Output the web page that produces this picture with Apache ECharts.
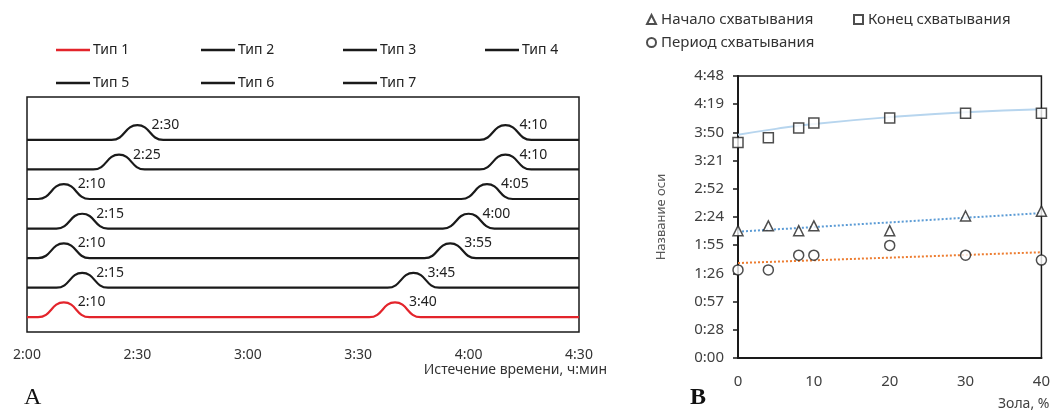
<!DOCTYPE html>
<html><head><meta charset="utf-8">
<script src="https://cdn.jsdelivr.net/npm/echarts@6/dist/echarts.min.js"></script>
<style>html,body{margin:0;padding:0;background:#fff}#c{width:1053px;height:413px}</style>
</head><body><div id="c"></div>
<script>
// ---------- Panel A data ----------
const typeNames = ['Тип 1','Тип 2','Тип 3','Тип 4','Тип 5','Тип 6','Тип 7'];
const startTimes = [130,135,130,135,130,145,150];   // minutes from 0:00 (2:10 ...)
const endTimes   = [220,225,235,240,245,250,250];   // minutes (3:40 ...)
const startLabels = ['2:10','2:15','2:10','2:15','2:10','2:25','2:30'];
const endLabels   = ['3:40','3:45','3:55','4:00','4:05','4:10','4:10'];
const peakShape = [[-12,0],[-7,0],[0,0.5],[7,0],[12,0]]; // schematic peak outline (min offset, height)
const xTickLabelsA = ['2:00','2:30','3:00','3:30','4:00','4:30'];
const typeColors = ['#e3242b','#1a1a1a','#1a1a1a','#1a1a1a','#1a1a1a','#1a1a1a','#1a1a1a'];

// ---------- Panel B data ----------
const ashPct = [0,4,8,10,20,30,40];
const setStart  = [130,135,130,135,130,145,150];  // minutes
const setEnd    = [220,225,235,240,245,250,250];
const setPeriod = [90,90,105,105,115,105,100];
const trendStart  = [[0,129],[40,148]];
const trendPeriod = [[0,97],[40,108]];
const trendEnd    = [[0,228],[5,234],[10,239],[20,246],[30,251],[40,254]];
const yTickLabelsB = ['0:00','0:28','0:57','1:26','1:55','2:24','2:52','3:21','3:50','4:19','4:48'];
const xTickLabelsB = ['0','10','20','30','40'];

const FONT = 'Noto Sans';
const chart = echarts.init(document.getElementById('c'), null, {renderer:'canvas'});

const seriesA = typeNames.map((name,i)=>{
  const raw = [[120,i]];
  [startTimes[i], endTimes[i]].forEach(t=>peakShape.forEach(([dx,dy])=>raw.push([t+dx, i+dy])));
  raw.push([270,i]);
  const pts = raw.filter((p,k)=> k===0 || p[0] > raw[k-1][0]);
  return {
    type:'line', name, xAxisIndex:0, yAxisIndex:0, data:pts,
    smooth:0.5, symbol:'none', color:typeColors[i],
    lineStyle:{color:typeColors[i], width:2.2},
    silent:true,
    markPoint:{
      symbol:'circle', symbolSize:0, silent:true,
      label:{show:true, position:'right', distance:14, formatter:'{b}', color:'#222', fontSize:14, fontFamily:FONT},
      data:[
        {name:startLabels[i], coord:[startTimes[i], i+0.5]},
        {name:endLabels[i], coord:[endTimes[i], i+0.5]}
      ]
    }
  };
});

const legendColsA = [51,196,338,480];
const legendsA = typeNames.map((n,i)=>({
  data:[{name:n, icon:'rect'}],
  left: legendColsA[i%4], top: i<4 ? 38 : 71,
  itemWidth:34, itemHeight:2.5, itemGap:4,
  textStyle:{fontSize:14, color:'#222', fontFamily:FONT, padding:[0,0,0,-2]},
  selectedMode:false
}));

const scatterStyle = {color:'#ffffff', borderColor:'#222', borderWidth:1.5};
const legendsB = [
  {data:['Начало схватывания'], left:641, top:7},
  {data:['Конец схватывания'], left:848, top:7},
  {data:['Период схватывания'], left:641, top:30}
].map(l=>Object.assign(l,{itemWidth:9,itemHeight:9,itemGap:4,selectedMode:false,
  textStyle:{fontSize:15,color:'#333',fontFamily:FONT}}));

const option = {
  animation:false,
  textStyle:{fontFamily:FONT},
  legend: legendsA.concat(legendsB),
  grid:[
    {left:27, right:474, top:97, bottom:81, show:true, borderColor:'#1a1a1a', borderWidth:1.5, backgroundColor:'transparent'},
    {left:738, right:11, top:76, bottom:55, show:true, borderColor:'#1a1a1a', borderWidth:1.5, backgroundColor:'transparent'}
  ],
  xAxis:[
    {type:'value', gridIndex:0, min:120, max:270, interval:30,
     axisLine:{show:false}, axisTick:{show:false}, splitLine:{show:false},
     axisLabel:{fontSize:14, color:'#333', margin:16, formatter:(v)=>xTickLabelsA[Math.round((v-120)/30)]}},
    {type:'value', gridIndex:1, min:0, max:40, interval:10,
     axisLine:{show:true, lineStyle:{color:'#1a1a1a', width:2}}, axisTick:{show:false}, splitLine:{show:false},
     axisLabel:{fontSize:15, color:'#404040', margin:16, formatter:(v)=>xTickLabelsB[Math.round(v/10)]},
     name:'Зола, %', nameLocation:'end', nameGap:8,
     nameTextStyle:{fontSize:14, color:'#404040', align:'right', verticalAlign:'top', padding:[39,0,0,0]}}
  ],
  yAxis:[
    {type:'value', gridIndex:0, min:-0.5, max:7.45, show:false},
    {type:'value', gridIndex:1, min:0, max:288, interval:28.8,
     axisLine:{show:true, lineStyle:{color:'#1a1a1a', width:2}},
     axisTick:{show:true, length:5, lineStyle:{color:'#1a1a1a', width:1.5}},
     splitLine:{show:false},
     axisLabel:{fontSize:15, color:'#404040', margin:14, formatter:(v)=>yTickLabelsB[Math.round(v/28.8)]},
     name:'Название оси', nameLocation:'middle', nameGap:70, nameRotate:90,
     nameTextStyle:{fontSize:13, color:'#595959'}}
  ],
  series: seriesA.concat([
    {type:'line', xAxisIndex:1, yAxisIndex:1, data:trendEnd, smooth:true, symbol:'none', silent:true,
     lineStyle:{color:'#b7d5ee', width:2}},
    {type:'line', xAxisIndex:1, yAxisIndex:1, data:trendStart, symbol:'none', silent:true,
     lineStyle:{color:'#5b9bd5', width:2, type:[2,2]}},
    {type:'line', xAxisIndex:1, yAxisIndex:1, data:trendPeriod, symbol:'none', silent:true,
     lineStyle:{color:'#ed7d31', width:2, type:[2,2]}},
    {type:'scatter', name:'Начало схватывания', xAxisIndex:1, yAxisIndex:1, symbol:'triangle', symbolSize:10,
     data:ashPct.map((x,i)=>[x,setStart[i]]), itemStyle:scatterStyle, z:5},
    {type:'scatter', name:'Конец схватывания', xAxisIndex:1, yAxisIndex:1, symbol:'rect', symbolSize:10,
     data:ashPct.map((x,i)=>[x,setEnd[i]]), itemStyle:scatterStyle, z:5},
    {type:'scatter', name:'Период схватывания', xAxisIndex:1, yAxisIndex:1, symbol:'circle', symbolSize:10,
     data:ashPct.map((x,i)=>[x,setPeriod[i]]), itemStyle:scatterStyle, z:5}
  ]),
  graphic:[
    {type:'text', right:1053-607, top:363, style:{text:'Истечение времени, ч:мин', font:'14px "Noto Sans"', fill:'#333'}},
    {type:'text', left:24, top:386, style:{text:'A', font:'24px "Liberation Serif"', fill:'#111'}},
    {type:'text', left:690, top:386, style:{text:'B', font:'bold 24px "Liberation Serif"', fill:'#111'}}
  ]
};
chart.setOption(option);
</script></body></html>
